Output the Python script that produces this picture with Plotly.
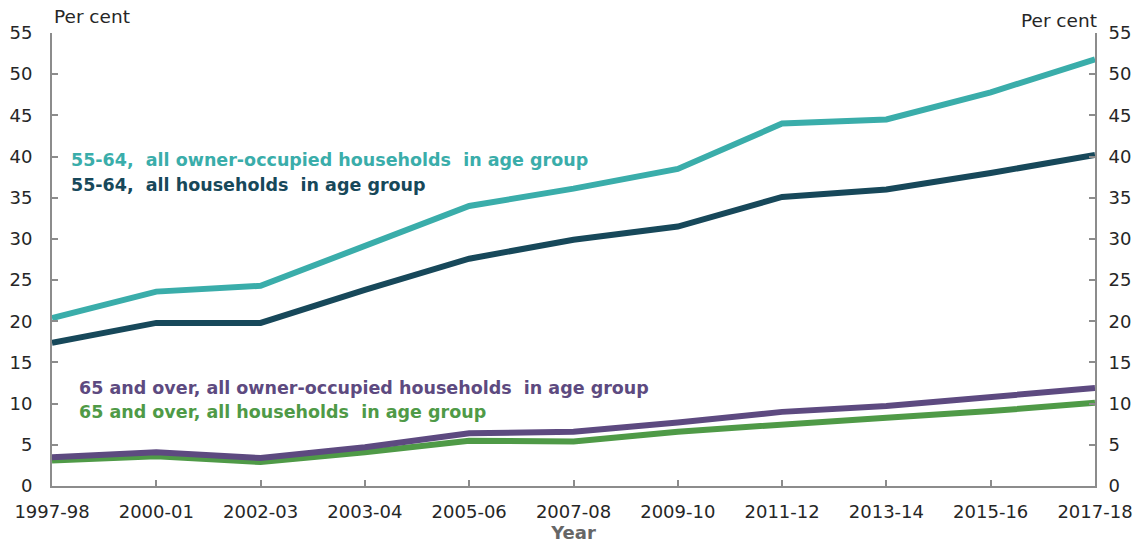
import plotly.graph_objects as go

years = ["1997-98", "2000-01", "2002-03", "2003-04", "2005-06", "2007-08",
         "2009-10", "2011-12", "2013-14", "2015-16", "2017-18"]
owner_55_64 = [20.4, 23.6, 24.3, 29.2, 34.0, 36.1, 38.5, 44.0, 44.5, 47.8, 51.8]
all_55_64 = [17.4, 19.8, 19.8, 23.8, 27.6, 29.9, 31.5, 35.1, 36.0, 38.0, 40.2]
owner_65 = [3.5, 4.1, 3.4, 4.7, 6.4, 6.6, 7.7, 9.0, 9.7, 10.8, 11.9]
all_65 = [3.1, 3.6, 2.9, 4.1, 5.5, 5.4, 6.6, 7.5, 8.3, 9.1, 10.1]
y_ticks = [0, 5, 10, 15, 20, 25, 30, 35, 40, 45, 50, 55]

c_teal = "#3aadaa"
c_dark = "#17485a"
c_purple = "#5d4a80"
c_green = "#4f9a47"

FONT = "DejaVu Sans"
fig = go.Figure()
for vals, col, name in [(all_65, c_green, "65 and over, all households in age group"),
                        (owner_65, c_purple, "65 and over, all owner-occupied households in age group"),
                        (all_55_64, c_dark, "55-64, all households in age group"),
                        (owner_55_64, c_teal, "55-64, all owner-occupied households in age group")]:
    fig.add_trace(go.Scatter(x=years, y=vals, mode="lines", name=name,
                             line=dict(color=col, width=6), showlegend=False))
# invisible trace for right axis
fig.add_trace(go.Scatter(x=years, y=owner_55_64, yaxis="y2", mode="lines",
                         line=dict(width=0), opacity=0, showlegend=False, hoverinfo="skip"))

axis_col = "#8c8c8c"
tickfont = dict(family=FONT, size=18, color="#262626")
common = dict(showgrid=False, showline=True, linecolor=axis_col, linewidth=2,
              ticks="inside", tickcolor=axis_col, ticklen=6, tickwidth=2,
              tickfont=tickfont, zeroline=False, automargin=False)
fig.update_layout(
    width=1135, height=536,
    margin=dict(l=44, r=48, t=25, b=58),
    plot_bgcolor="white", paper_bgcolor="white",
    xaxis=dict(type="category", range=[0, 10], ticklabelstandoff=8,
               title=dict(text="<b>Year</b>", font=dict(family=FONT, size=18, color="#666"),
                          standoff=0), **common),
    yaxis=dict(range=[0, 55], tickvals=y_ticks, ticklabelstandoff=14, **common),
    yaxis2=dict(range=[0, 55], tickvals=y_ticks, overlaying="y", side="right",
                ticklabelstandoff=8, **common),
)

fig.add_annotation(text="Per cent", xref="paper", yref="paper", x=0.0, y=1.0,
                   xanchor="left", yanchor="bottom", showarrow=False, yshift=4,
                   font=dict(family=FONT, size=18.5, color="#262626"))
fig.add_annotation(text="Per cent", xref="paper", yref="paper", x=1.004, y=1.0,
                   xanchor="right", yanchor="bottom", showarrow=False, yshift=0,
                   font=dict(family=FONT, size=18.5, color="#262626"))
labels = [
    ("<b>55-64,  all owner-occupied households  in age group</b>", c_teal, 39.6, 0.16),
    ("<b>55-64,  all households  in age group</b>", c_dark, 36.5, 0.16),
    ("<b>65 and over, all owner-occupied households  in age group</b>", c_purple, 11.9, 0.24),
    ("<b>65 and over, all households  in age group</b>", c_green, 9.0, 0.24),
]
for txt, col, yv, xv in labels:
    fig.add_annotation(text=txt, x=xv, y=yv, xref="x", yref="y", xanchor="left",
                       yanchor="middle", showarrow=False,
                       font=dict(family=FONT, size=17.5, color=col))

fig.write_html("out.html")
